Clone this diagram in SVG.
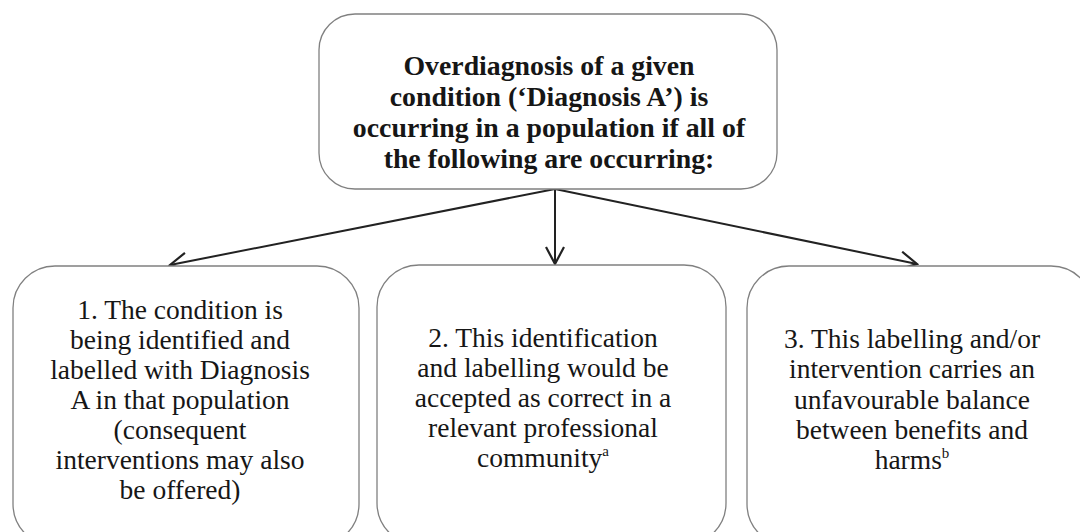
<svg xmlns="http://www.w3.org/2000/svg" width="1080" height="532" viewBox="0 0 1080 532">
<defs>
<style>
.box{fill:#fff;stroke:#808080;stroke-width:1.3}
.t{font-family:'Liberation Serif',serif;font-size:27.5px;fill:#161616;text-anchor:middle}
.b{font-weight:bold;font-size:27.8px}
.c{stroke:#222;stroke-width:2;fill:none}
</style>
<marker id="ah" viewBox="0 0 20 20" refX="18" refY="10" markerWidth="20" markerHeight="20" markerUnits="userSpaceOnUse" orient="auto">
<path d="M1,1 L18,10 L1,19" fill="none" stroke="#222" stroke-width="2.2"/>
</marker>
</defs>
<rect width="1080" height="532" fill="#fff"/>
<g id="connectors">
<line class="c" x1="555" y1="189" x2="170" y2="265" marker-end="url(#ah)"/>
<line class="c" x1="555" y1="189" x2="555" y2="264" marker-end="url(#ah)"/>
<line class="c" x1="555" y1="189" x2="917" y2="264" marker-end="url(#ah)"/>
</g>
<g id="top" font-family="Liberation Serif, serif">
<rect class="box" x="319" y="14" width="458" height="175" rx="36"/>
<text class="t b" x="549" y="75">Overdiagnosis of a given</text>
<text class="t b" x="549" y="106">condition (‘Diagnosis A’) is</text>
<text class="t b" x="549" y="137">occurring in a population if all of</text>
<text class="t b" x="549" y="168">the following are occurring:</text>
</g>
<g id="n1" font-family="Liberation Serif, serif">
<rect class="box" x="13" y="266" width="346" height="280" rx="42"/>
<text class="t" x="180" y="319">1. The condition is</text>
<text class="t" x="180" y="349">being identified and</text>
<text class="t" x="180" y="379">labelled with Diagnosis</text>
<text class="t" x="180" y="409">A in that population</text>
<text class="t" x="180" y="439">(consequent</text>
<text class="t" x="180" y="469">interventions may also</text>
<text class="t" x="180" y="499">be offered)</text>
</g>
<g id="n2" font-family="Liberation Serif, serif">
<rect class="box" x="377" y="265" width="349" height="280" rx="42"/>
<text class="t" x="543" y="347">2. This identification</text>
<text class="t" x="543" y="377">and labelling would be</text>
<text class="t" x="543" y="407">accepted as correct in a</text>
<text class="t" x="543" y="437">relevant professional</text>
<text class="t" x="543" y="467">community<tspan font-size="15" dy="-11">a</tspan></text>
</g>
<g id="n3" font-family="Liberation Serif, serif">
<rect class="box" x="747" y="266" width="346" height="280" rx="42"/>
<text class="t" x="912" y="348">3. This labelling and/or</text>
<text class="t" x="912" y="378">intervention carries an</text>
<text class="t" x="912" y="409">unfavourable balance</text>
<text class="t" x="912" y="439">between benefits and</text>
<text class="t" x="912" y="469">harms<tspan font-size="15" dy="-11">b</tspan></text>
</g>
</svg>
